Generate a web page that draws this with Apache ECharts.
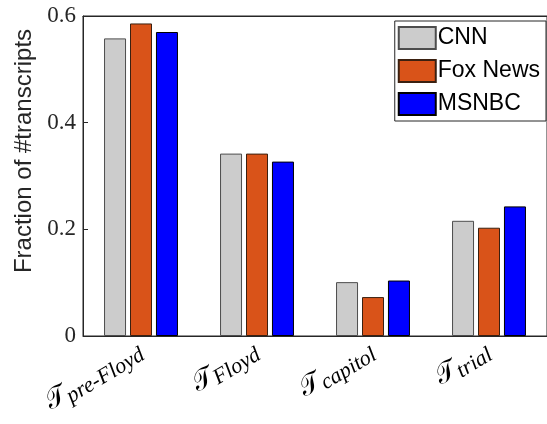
<!DOCTYPE html>
<html>
<head>
<meta charset="utf-8">
<script src="https://cdn.jsdelivr.net/npm/echarts@6/dist/echarts.min.js"></script>
<style>html,body{margin:0;padding:0;background:#fff}#c{width:547px;height:424px}</style>
</head>
<body>
<div id="c"></div>
<script>
const categories = ['pre-Floyd', 'Floyd', 'capitol', 'trial'];
const seriesNames = ['CNN', 'Fox News', 'MSNBC'];
const cnn = [0.558, 0.342, 0.101, 0.216];
const fox = [0.586, 0.342, 0.073, 0.203];
const msnbc = [0.570, 0.327, 0.104, 0.243];
const yTicks = [0, 0.2, 0.4, 0.6];

const colors = ['#cccccc', '#d95319', '#0000ff'];
const borders = ['#4d4d4d', '#3a2010', '#000000'];
const data = [cnn, fox, msnbc];

const chart = echarts.init(document.getElementById('c'));
const axisColor = '#262626';
chart.setOption({
  animation: false,
  grid: { left: 83, top: 16, width: 472, height: 320, show: true, borderColor: axisColor, borderWidth: 1, backgroundColor: 'transparent' },
  legend: {
    right: 1, top: 21, orient: 'vertical', align: 'left',
    itemWidth: 37, itemHeight: 22, itemGap: 9,
    padding: [5, 6, 5, 3],
    borderColor: axisColor, borderWidth: 1, backgroundColor: '#fff',
    textStyle: { fontFamily: 'Liberation Sans', fontSize: 23, color: '#000', padding: [0, 0, 0, -3] },
    icon: 'rect',
    data: seriesNames
  },
  xAxis: [{
    type: 'category', data: categories, position: 'bottom',
    axisLine: { lineStyle: { color: axisColor } },
    axisTick: { inside: true, length: 5, alignWithLabel: true, lineStyle: { color: axisColor } },
    axisLabel: {
      rotate: 31, margin: 14, interval: 0, padding: [8, 0, 0, 0],
      formatter: v => '{t|𝒯}{s|' + v + '}',
      rich: {
        t: { fontFamily: 'DejaVu Serif', fontSize: 27, color: '#000', padding: [0, 0, 12, 0] },
        s: { fontFamily: 'Liberation Serif', fontStyle: 'italic', fontSize: 22, color: '#000' }
      }
    }
  }, {
    type: 'category', data: categories, position: 'top',
    axisLine: { lineStyle: { color: axisColor } },
    axisTick: { inside: true, length: 5, alignWithLabel: true, lineStyle: { color: axisColor } },
    axisLabel: { show: false }
  }],
  yAxis: {
    type: 'value', min: 0, max: 0.6, interval: 0.2,
    name: 'Fraction of #transcripts', nameLocation: 'middle', nameGap: 39,
    nameTextStyle: { fontFamily: 'Liberation Sans', fontSize: 24, color: '#262626', padding: [0, 0, 0, 50] },
    axisLine: { show: true, lineStyle: { color: axisColor } },
    axisTick: { show: true, inside: true, length: 5, lineStyle: { color: axisColor } },
    splitLine: { show: false },
    axisLabel: {
      fontFamily: 'Liberation Serif', fontSize: 23, color: '#262626', margin: 7,
      formatter: v => { const s = yTicks.find(t => Math.abs(t - v) < 1e-9); return s === 0 ? '0' : String(s); }
    }
  },
  series: data.map((d, i) => ({
    name: seriesNames[i], type: 'bar', data: d, xAxisIndex: 0,
    barWidth: 22, barGap: '18%',
    itemStyle: { color: colors[i], borderColor: borders[i], borderWidth: 1 }
  }))
});
</script>
</body>
</html>
